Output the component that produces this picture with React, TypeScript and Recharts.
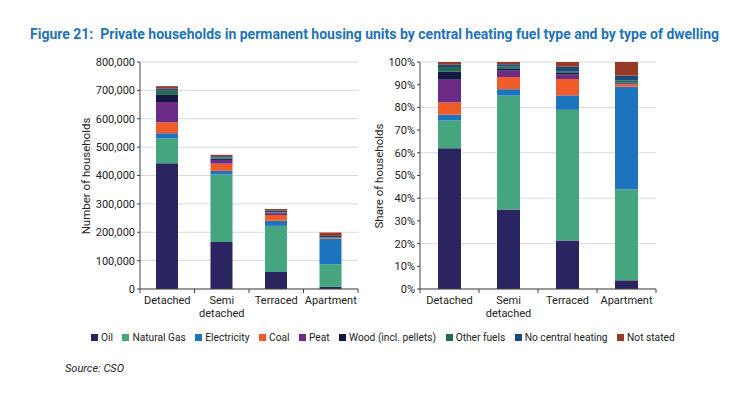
import { BarChart, Bar, XAxis, YAxis, CartesianGrid } from 'recharts'

const FONT = 'Roboto, "Liberation Sans", Arial, sans-serif'

const categories = ['Detached', 'Semi detached', 'Terraced', 'Apartment']
const oil = [443000, 165500, 60300, 7600]
const naturalGas = [87500, 237500, 162200, 79800]
const electricity = [18500, 13200, 18000, 89900]
const coal = [38500, 25500, 20300, 2200]
const peat = [71500, 13200, 5900, 600]
const wood = [25000, 4700, 1700, 800]
const otherFuels = [15000, 4300, 2000, 2000]
const noCentralHeating = [7200, 4300, 5600, 4200]
const notStated = [8600, 4700, 5900, 11900]

const countTicks = [0, 100000, 200000, 300000, 400000, 500000, 600000, 700000, 800000]
const shareTicks = [0, 0.1, 0.2, 0.3, 0.4, 0.5, 0.6, 0.7, 0.8, 0.9, 1]

const SERIES = [
  { key: 'oil', name: 'Oil', color: '#2a2561', values: oil },
  { key: 'gas', name: 'Natural Gas', color: '#45a57f', values: naturalGas },
  { key: 'elec', name: 'Electricity', color: '#1b74bd', values: electricity },
  { key: 'coal', name: 'Coal', color: '#f15a29', values: coal },
  { key: 'peat', name: 'Peat', color: '#6c2b86', values: peat },
  { key: 'wood', name: 'Wood (incl. pellets)', color: '#151845', values: wood },
  { key: 'other', name: 'Other fuels', color: '#256b52', values: otherFuels },
  { key: 'noch', name: 'No central heating', color: '#184b7b', values: noCentralHeating },
  { key: 'ns', name: 'Not stated', color: '#973a25', values: notStated },
]

const rows = categories.map((c, i) => {
  const r: Record<string, string | number> = { category: c }
  SERIES.forEach(s => { r[s.key] = s.values[i] })
  return r
})

// category tick: label under the centre, tick mark on the band edges
function makeTick(band: number, count: number) {
  return function CatTick(props: any) {
    const { x, y, payload, index } = props
    const lines = String(payload.value).split(' ')
    return (
      <g>
        <line x1={x - band / 2} x2={x - band / 2} y1={y} y2={y + 4} stroke="#444" />
        {index === count - 1 && <line x1={x + band / 2} x2={x + band / 2} y1={y} y2={y + 4} stroke="#444" />}
        {lines.map((l, i) => (
          <text key={i} x={x} y={y + 15 + i * 13} textAnchor="middle" fontSize={11} fill="#222" fontFamily={FONT}>{l}</text>
        ))}
      </g>
    )
  }
}

const fmtCount = (v: number) => v.toLocaleString('en-US')
const fmtShare = (v: number) => `${Math.round(v * 100)}%`

function StackChart({ width, height, yWidth, right, expand }: { width: number; height: number; yWidth: number; right: number; expand?: boolean }) {
  const band = (width - yWidth - right) / categories.length
  return (
    <BarChart width={width} height={height} data={rows} stackOffset={expand ? 'expand' : 'none'}
      margin={{ top: 62, right, left: 0, bottom: 0 }} barSize={expand ? 23 : 22}>
      <CartesianGrid vertical={false} stroke="#d9d9d9" />
      <XAxis dataKey="category" axisLine={{ stroke: '#444' }} tickLine={false} tickSize={0} tickMargin={0}
        interval={0} tick={makeTick(band, categories.length)} height={height - 289} />
      <YAxis width={yWidth} domain={expand ? [0, 1] : [0, 800000]} ticks={expand ? shareTicks : countTicks}
        tickFormatter={expand ? fmtShare : fmtCount} axisLine={{ stroke: '#444' }} tickLine={{ stroke: '#444' }}
        tickSize={3} tickMargin={2} tick={{ fontSize: 11, fill: '#222', fontFamily: FONT }} />
      {SERIES.map(s => (
        <Bar key={s.key} dataKey={s.key} name={s.name} stackId="a" fill={s.color} isAnimationActive={false} />
      ))}
    </BarChart>
  )
}

export default function App() {
  return (
    <div style={{ position: 'absolute', left: 0, top: 0, width: 731, height: 395, background: '#fff', fontFamily: FONT, color: '#222' }}>
      <div style={{ position: 'absolute', left: 30, top: 26, fontSize: 14, fontWeight: 700, color: '#1f73b7', whiteSpace: 'nowrap' }}>
        Figure 21:&nbsp; Private households in permanent housing units by central heating fuel type and by type of dwelling
      </div>

      <div style={{ position: 'absolute', left: 0, top: 0 }}>
        <StackChart width={370} height={330} yWidth={140} right={12} />
      </div>
      <div style={{ position: 'absolute', left: 366, top: 0 }}>
        <StackChart width={365} height={330} yWidth={54} right={75} expand />
      </div>

      <div style={{ position: 'absolute', left: 86, top: 176, fontSize: 11.5, whiteSpace: 'nowrap', transform: 'translate(-50%, -50%) rotate(-90deg)' }}>
        Number of households
      </div>
      <div style={{ position: 'absolute', left: 379, top: 176, fontSize: 11.5, whiteSpace: 'nowrap', transform: 'translate(-50%, -50%) rotate(-90deg)' }}>
        Share of households
      </div>

      <div style={{ position: 'absolute', left: 91, top: 332, display: 'flex', gap: 9.5, fontSize: 10.2, whiteSpace: 'nowrap' }}>
        {SERIES.map(s => (
          <span key={s.key} style={{ display: 'flex', alignItems: 'center', gap: 3 }}>
            <span style={{ width: 7, height: 7, background: s.color, display: 'inline-block' }} />{s.name}
          </span>
        ))}
      </div>

      <div style={{ position: 'absolute', left: 65, top: 362, fontSize: 11, fontStyle: 'italic' }}>Source: CSO</div>
    </div>
  )
}
